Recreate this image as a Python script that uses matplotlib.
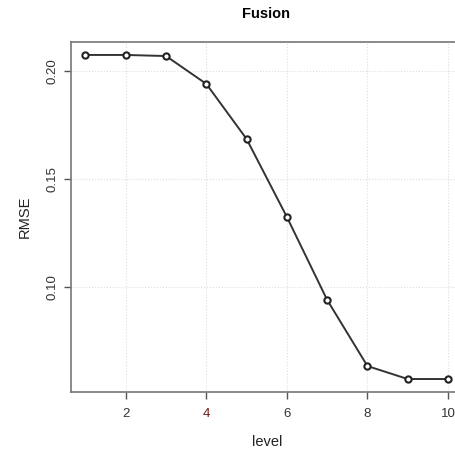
import numpy as np
import matplotlib.pyplot as plt

# Data
level = [1, 2, 3, 4, 5, 6, 7, 8, 9, 10]
rmse = [0.2074, 0.2074, 0.2069, 0.1940, 0.1685, 0.1324, 0.0940, 0.0634, 0.0574, 0.0574]
xticks = [2, 4, 6, 8, 10]
yticks = [0.10, 0.15, 0.20]
ytick_labels = ['0.10', '0.15', '0.20']

plt.rc('font', family='Liberation Sans')

fig = plt.figure(figsize=(4.55, 4.53), dpi=100)
ax = fig.add_axes([0.156, 0.1347, 0.8605, 0.7726])

ax.grid(True, color='#dddddd', linestyle=':', linewidth=0.8)
ax.set_axisbelow(True)
ax.plot(level, rmse, '-', color='#333333', lw=1.4, marker='o', markersize=4.5,
        markerfacecolor='white', markeredgecolor='#222222', markeredgewidth=1.5)

ax.set_xlim(0.64, 10.36)
ax.set_ylim(0.0514, 0.2134)
ax.set_xticks(xticks)
ax.set_yticks(yticks)
ax.set_yticklabels(ytick_labels, rotation=90, va='center')
ax.tick_params(axis='both', direction='out', length=5, width=1, color='#555555',
               labelsize=9.5, labelcolor='#333333')
ax.tick_params(axis='x', pad=6.5)
ax.tick_params(axis='y', pad=4)
ax.get_xticklabels()[1].set_color('#6e1c12')

for side in ['left', 'bottom', 'top']:
    ax.spines[side].set_color('#777777')
    ax.spines[side].set_linewidth(1.2)
ax.spines['right'].set_visible(False)

ax.set_xlabel('level', fontsize=10.5, color='#222222', labelpad=11)
ax.set_ylabel('RMSE', fontsize=10.5, color='#222222', labelpad=10.5)
fig.text(266/455, 1 - 14/453, 'Fusion', fontsize=10.5, fontweight='bold',
         ha='center', va='center')

plt.savefig('out.png', dpi=100)
